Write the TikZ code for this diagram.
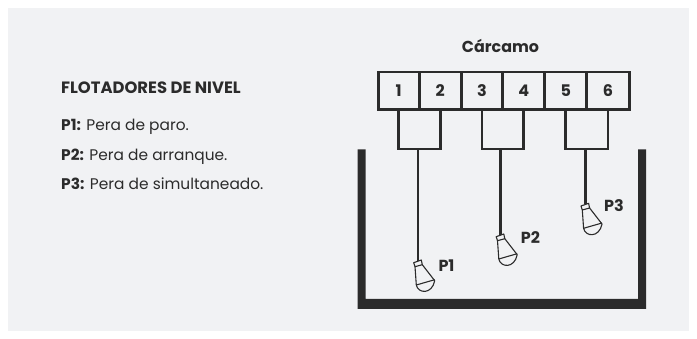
\documentclass[tikz,border=0pt]{standalone}
\usepackage{fontspec}
\setmainfont{Poppins}
\definecolor{panel}{HTML}{F1F2F4}
\definecolor{ink}{HTML}{2B2B2B}
\tikzset{
  x=1pt,y=-1pt,
  wire/.style={draw=ink,line width=2.8pt},
  term/.style={draw=ink,line width=2.8pt,minimum height=37.3pt,inner sep=0pt,font=\fontsize{16}{16}\selectfont\bfseries,text=ink,anchor=north west},
  wall/.style={fill=ink,draw=none},
  bulb/.style={draw=ink,line width=1.1pt,line join=round},
  lab/.style={font=\fontsize{16}{16}\selectfont\bfseries,text=ink,inner sep=0pt},
  txt/.style={font=\fontsize{15.4}{15.4}\selectfont,text=ink,inner sep=0pt,anchor=base west},
  pics/floater/.style={code={
    \draw[bulb,fill=panel] (-4.3,2) -- (3.3,-0.7) -- (4.3,4) -- (-3,6) -- cycle;
    \draw[bulb] (-3,6) -- (-1.7,24.3) .. controls (0,33) and (14,34) .. (16.7,20) -- (4.3,4);
    \draw[bulb] (-1.7,24.3) -- (16.7,19);
  }}
}
\begin{document}
\begin{tikzpicture}
\useasboundingbox (0,0) rectangle (697,339);
\fill[white] (0,0) rectangle (697,339);
\fill[panel] (8,8) rectangle (689,331);
\node[lab,anchor=base,font=\fontsize{15.9}{15.9}\selectfont\bfseries] (title) at (500.5,53) {Cárcamo};
\node[txt,font=\fontsize{16.4}{16.4}\selectfont\bfseries] (head) at (61,93.3) {FLOTADORES DE NIVEL};
\node[txt] (l1) at (61,130.7) {\textbf{P1:} Pera de paro.};
\node[txt] (l2) at (61,160.5) {\textbf{P2:} Pera de arranque.};
\node[txt] (l3) at (61,189.5) {\textbf{P3:} Pera de simultaneado.};
\node[term,minimum width=41.3pt] (t1) at (376.7,70.7) {1};
\node[term,minimum width=41.7pt] (t2) at (418,70.7) {2};
\node[term,minimum width=41.6pt] (t3) at (459.7,70.7) {3};
\node[term,minimum width=42pt] (t4) at (501.3,70.7) {4};
\node[term,minimum width=42pt] (t5) at (543.3,70.7) {5};
\node[term,minimum width=42.7pt] (t6) at (585.3,70.7) {6};
\coordinate (j1) at (418,149);
\coordinate (j2) at (500.5,149);
\coordinate (j3) at (585.3,149);
\coordinate (f1) at (418,260.7);
\coordinate (f2) at (500.5,234.7);
\coordinate (f3) at (585.3,204);
\draw[wire] (t1.south) |- (j1) -| (t2.south);
\draw[wire] (t3.south) |- (j2) -| (t4.south);
\draw[wire] (t5.south) |- (j3) -| (t6.south);
\draw[wire] (j1) -- (f1);
\draw[wire] (j2) -- (f2);
\draw[wire] (j3) -- (f3);
\pic at (f1) {floater};
\pic at (f2) {floater};
\pic at (f3) {floater};
\fill[wall] (357.5,149.5) -- (365.5,149.5) -- (365.5,299) -- (638,299) -- (638,149.5) -- (646,149.5) -- (646,309) -- (357.5,309) -- cycle;
\node[lab] (p1) at (446.5,265.5) {P1};
\node[lab] (p2) at (530.5,237.5) {P2};
\node[lab] (p3) at (614,206) {P3};
\end{tikzpicture}
\end{document}
